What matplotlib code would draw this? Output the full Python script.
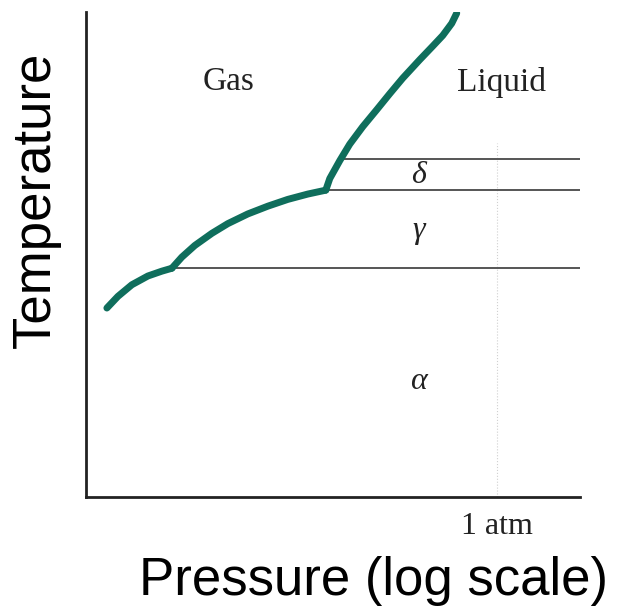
import matplotlib.pyplot as plt
import numpy as np

# phase boundary (log pressure, temperature) in arbitrary units
sub_alpha_x = [0.425, 0.648, 0.931, 1.255, 1.538, 1.741]
sub_alpha_y = [3.90, 4.14, 4.38, 4.56, 4.66, 4.72]
sub_gamma_x = [1.741, 1.943, 2.206, 2.551, 2.874, 3.279, 3.684, 4.089, 4.494, 4.858]
sub_gamma_y = [4.72, 4.95, 5.19, 5.44, 5.64, 5.84, 6.00, 6.14, 6.25, 6.33]
sub_delta_x = [4.858, 4.939, 5.142, 5.344, 5.607, 5.891, 6.154, 6.417, 6.761, 7.024, 7.227, 7.409, 7.510]
sub_delta_y = [6.33, 6.57, 6.94, 7.28, 7.64, 7.99, 8.32, 8.64, 9.02, 9.30, 9.52, 9.77, 9.98]

# solid-solid / solid-liquid transitions: (start x, temperature)
trans_x = [1.741, 4.858, 5.24]
trans_y = [4.72, 6.33, 6.97]

one_atm = 8.32
labels = ['Gas', 'Liquid', r'$\delta$', r'$\gamma$', r'$\alpha$']
label_x = [2.89, 8.42, 6.76, 6.76, 6.76]
label_y = [8.56, 8.56, 6.64, 5.46, 2.39]
label_fs = [24, 24, 23, 23, 23]

fig = plt.figure(figsize=(6.18, 6.10), dpi=100)
ax = fig.add_axes([0.139, 0.185, 0.799, 0.795])

green = '#0f6e5c'
for xs, ys in [(sub_alpha_x, sub_alpha_y), (sub_gamma_x, sub_gamma_y), (sub_delta_x, sub_delta_y)]:
    ax.plot(xs, ys, color=green, lw=5, solid_capstyle='round',
            solid_joinstyle='round', zorder=3)

for x0, y0 in zip(trans_x, trans_y):
    ax.plot([x0, 10], [y0, y0], color='#555555', lw=1.4, zorder=2)

ax.plot([one_atm, one_atm], [0, 7.3], color='#d0d0d0', lw=0.8, ls=':', zorder=1)

plt.rcParams['mathtext.fontset'] = 'custom'
plt.rcParams['mathtext.it'] = 'Liberation Serif:italic'
for t, x, y, fs in zip(labels, label_x, label_y, label_fs):
    ax.text(x, y, t, ha='center', va='center', fontsize=fs,
            family='Liberation Serif', color='#222222')

ax.text(one_atm, -0.3, '1 atm', ha='center', va='top', fontsize=23,
        family='Liberation Serif', color='#222222')

ax.set_xlim(0, 10)
ax.set_ylim(0, 10)
ax.spines['top'].set_visible(False)
ax.spines['right'].set_visible(False)
for s in ['left', 'bottom']:
    ax.spines[s].set_color('#222222')
    ax.spines[s].set_linewidth(2)
ax.set_xticks([])
ax.set_yticks([])

fig.text(0.058, 0.672, 'Temperature', rotation=90, ha='center', va='center',
         fontsize=38, family='Liberation Sans')
fig.text(0.604, 0.048, 'Pressure (log scale)', ha='center', va='center',
         fontsize=38, family='Liberation Sans')

fig.savefig('out.png', dpi=100)
